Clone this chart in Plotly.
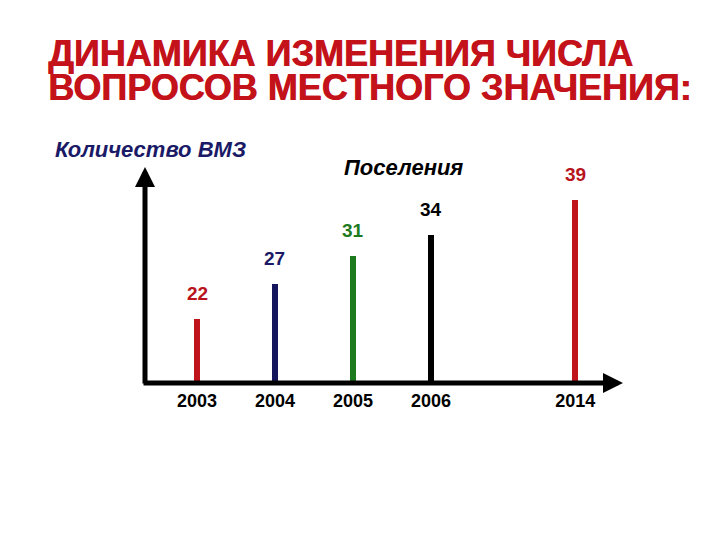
import plotly.graph_objects as go

years = ["2003", "2004", "2005", "2006", "2014"]
values = [22, 27, 31, 34, 39]
bar_colors = ["#C0141C", "#15155E", "#1E7A1E", "#000000", "#C0141C"]
label_colors = ["#B8141C", "#1A1A66", "#1E7A1E", "#000000", "#B8141C"]
title_lines = ["ДИНАМИКА ИЗМЕНЕНИЯ ЧИСЛА", "ВОПРОСОВ МЕСТНОГО ЗНАЧЕНИЯ:"]
y_label = "Количество ВМЗ"
series_name = "Поселения"

# schematic positions along the time axis (2014 set apart)
xpos = [0, 1, 2, 3, 4.85]

W, H = 720, 540
ml, mr, mt, mb = 145, 98, 175, 157


def px(x):
    return (x - ml) / (W - ml - mr)


def py(y):
    return (H - mb - y) / (H - mt - mb)


fig = go.Figure()
fig.add_trace(go.Bar(
    x=xpos, y=values, width=0.08, marker=dict(color=bar_colors, line=dict(width=0)),
    showlegend=False, hoverinfo="skip"))

anns = []
for xp, v, c in zip(xpos, values, label_colors):
    anns.append(dict(x=xp, y=v, xref="x", yref="y", text="<b>" + str(v) + "</b>", showarrow=False,
                     yshift=26, font=dict(family="Liberation Sans", size=19, color=c)))

# axis arrows
anns.append(dict(x=0, y=py(167), xref="paper", yref="paper", ax=0, ay=218, axref="pixel", ayref="pixel",
                 showarrow=True, arrowhead=2, arrowsize=0.8, arrowwidth=5, arrowcolor="#000000", text=""))
anns.append(dict(x=px(623), y=0, xref="paper", yref="paper", ax=-481, ay=0,
                 showarrow=True, arrowhead=2, arrowsize=0.8, arrowwidth=5, arrowcolor="#000000", text=""))

anns.append(dict(x=px(53), y=py(149), xref="paper", yref="paper", xanchor="left", yanchor="middle",
                 text="<b><i>" + y_label + "</i></b>", showarrow=False,
                 font=dict(family="Liberation Sans", size=22, color="#1A1A66")))
anns.append(dict(x=px(403), y=py(168), xref="paper", yref="paper", xanchor="center", yanchor="middle",
                 text="<b><i>" + series_name + "</i></b>", showarrow=False,
                 font=dict(family="Liberation Sans", size=22, color="#000000")))
for line, yc in zip(title_lines, [53, 88]):
    anns.append(dict(x=px(46), y=py(yc), xref="paper", yref="paper", xanchor="left", yanchor="middle",
                     text="<b>" + line + "</b>", showarrow=False,
                     font=dict(family="Liberation Sans", size=36, color="#C4121A",
                               shadow="0.7px 0px 0px #C4121A")))

fig.update_layout(
    annotations=anns,
    width=W, height=H,
    margin=dict(l=ml, r=mr, t=mt, b=mb),
    paper_bgcolor="white", plot_bgcolor="white",
    xaxis=dict(range=[-0.667, 5.45], tickvals=xpos, ticktext=["<b>" + y + "</b>" for y in years],
               showgrid=False, zeroline=False, showline=False, ticks="", ticklabelstandoff=5,
               tickfont=dict(family="Liberation Sans", size=18, color="#000000"), fixedrange=True),
    yaxis=dict(range=[12.93, 42.61], showgrid=False, zeroline=False, showline=False,
               showticklabels=False, ticks="", fixedrange=True),
    bargap=0,
)

fig.write_html("out.html", config={"displayModeBar": False},
               post_script="document.body.style.margin='0';")
